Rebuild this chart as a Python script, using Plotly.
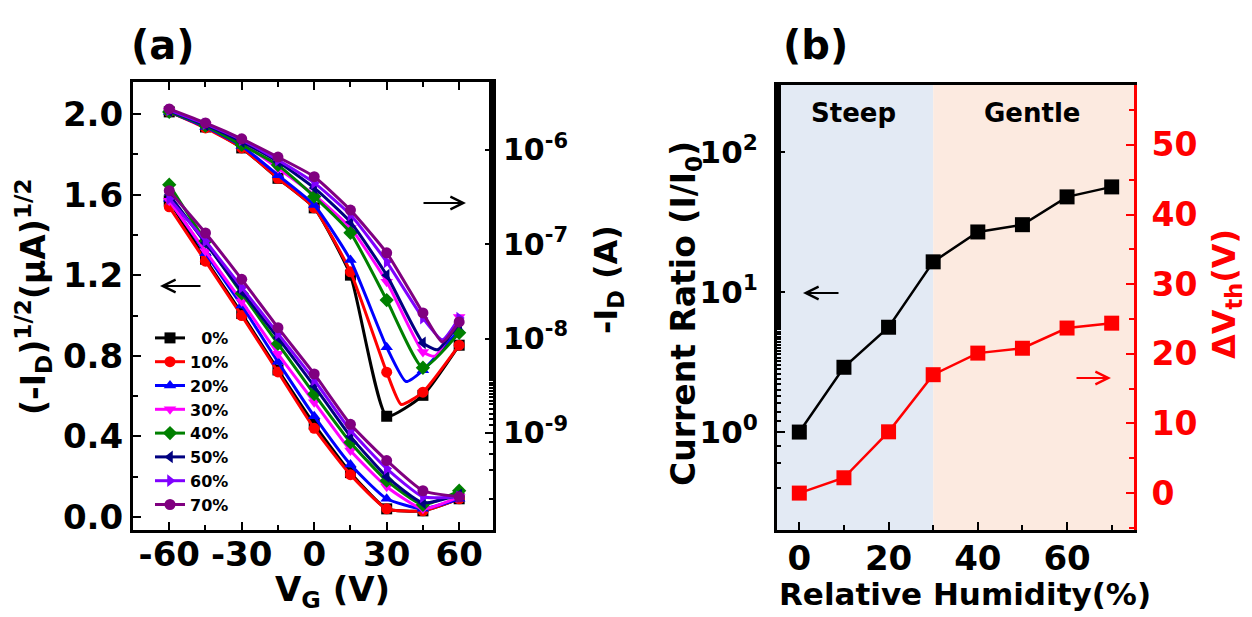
import plotly.graph_objects as go

W, H = 1252, 617

# ---------------- Panel (a) data ----------------
VG = [-60, -45, -30, -15, 0, 15, 30, 45, 60]
labels = ["\u00a0\u00a00%", "10%", "20%", "30%", "40%", "50%", "60%", "70%"]
colors = ["#000000", "#FF0000", "#0000FF", "#FF00FF", "#008000", "#000080", "#8000FF", "#800080"]
symbols = ["square", "circle", "triangle-up", "triangle-down", "diamond",
           "triangle-left", "triangle-right", "circle"]

# (-I_D)^1/2 branch, (uA)^1/2, left axis
sqrt_0 = [1.57, 1.28, 1.01, 0.73, 0.46, 0.22, 0.04, 0.03, 0.09]
sqrt_10 = [1.54, 1.27, 1.00, 0.72, 0.44, 0.21, 0.04, 0.03, 0.09]
sqrt_20 = [1.58, 1.31, 1.05, 0.77, 0.50, 0.26, 0.09, 0.04, 0.09]
sqrt_30 = [1.57, 1.32, 1.07, 0.81, 0.57, 0.33, 0.15, 0.04, 0.10]
sqrt_40 = [1.65, 1.37, 1.11, 0.86, 0.61, 0.37, 0.18, 0.06, 0.13]
sqrt_50 = [1.60, 1.36, 1.12, 0.89, 0.65, 0.40, 0.20, 0.07, 0.11]
sqrt_60 = [1.58, 1.37, 1.14, 0.91, 0.68, 0.43, 0.24, 0.10, 0.10]
sqrt_70 = [1.62, 1.41, 1.18, 0.94, 0.71, 0.46, 0.28, 0.13, 0.10]

# -I_D branch (A), right log axis
id_0 = [2.53e-6, 1.75e-6, 1.05e-6, 5.0e-7, 2.43e-7, 4.7e-8, 1.5e-9, 2.5e-9, 8.5e-9]
id_10 = [2.53e-6, 1.71e-6, 1.05e-6, 5.0e-7, 2.43e-7, 5.1e-8, 4.4e-9, 2.7e-9, 8.5e-9]
id_20 = [2.53e-6, 1.75e-6, 1.10e-6, 5.4e-7, 2.6e-7, 6.8e-8, 8.1e-9, 4.6e-9, 1.23e-8]
id_30 = [2.6e-6, 1.84e-6, 1.19e-6, 6.4e-7, 3.33e-7, 1.49e-7, 4.0e-8, 7.2e-9, 1.69e-8]
id_40 = [2.53e-6, 1.8e-6, 1.13e-6, 6.9e-7, 3.2e-7, 1.32e-7, 2.56e-8, 4.9e-9, 1.15e-8]
id_50 = [2.6e-6, 1.84e-6, 1.22e-6, 7.5e-7, 3.95e-7, 1.72e-7, 4.7e-8, 9.0e-9, 1.46e-8]
id_60 = [2.65e-6, 1.89e-6, 1.28e-6, 7.8e-7, 4.47e-7, 2.05e-7, 6.5e-8, 1.65e-8, 1.65e-8]
id_70 = [2.72e-6, 1.93e-6, 1.31e-6, 8.4e-7, 5.2e-7, 2.3e-7, 8.1e-8, 1.87e-8, 1.5e-8]

# turning points (minimum) of the -I_D branch read between markers
knee_v = [None, 36, 38, 50, None, 51, 53, 53]
knee_i = [None, 2.0e-9, 3.5e-9, 6.5e-9, None, 7.6e-9, 9.7e-9, 9.2e-9]

sqrt_all = [sqrt_0, sqrt_10, sqrt_20, sqrt_30, sqrt_40, sqrt_50, sqrt_60, sqrt_70]
id_all = [id_0, id_10, id_20, id_30, id_40, id_50, id_60, id_70]

# ---------------- Panel (b) data ----------------
RH = [0, 10, 20, 30, 40, 50, 60, 70]
current_ratio = [1.0, 2.9, 5.6, 16.4, 26.8, 30.2, 47.7, 56.2]
delta_vth = [0, 2.2, 8.8, 17, 20.1, 20.8, 23.7, 24.4]
steep_range = [-5, 30]
gentle_range = [30, 75]

FONT = "DejaVu Sans"
fig = go.Figure()

for i in range(8):
    # lower branch (left axis)
    fig.add_trace(go.Scatter(
        x=VG, y=sqrt_all[i], xaxis="x", yaxis="y", mode="lines+markers",
        name=labels[i], legendgroup=labels[i], showlegend=True,
        line=dict(color=colors[i], width=3, shape="spline", smoothing=0.5),
        marker=dict(symbol=symbols[i], size=11, color=colors[i])))
    # upper branch (right log axis)
    xs, ys = list(VG), list(id_all[i])
    if knee_v[i] is not None:
        pts = sorted(zip(xs + [knee_v[i]], ys + [knee_i[i]]))
        xs = [p[0] for p in pts]
        ys = [p[1] for p in pts]
    fig.add_trace(go.Scatter(
        x=xs, y=ys, xaxis="x", yaxis="y2", mode="lines",
        legendgroup=labels[i], showlegend=False, hoverinfo="skip",
        line=dict(color=colors[i], width=3, shape="spline", smoothing=0.5)))
    fig.add_trace(go.Scatter(
        x=VG, y=id_all[i], xaxis="x", yaxis="y2", mode="markers",
        legendgroup=labels[i], showlegend=False,
        marker=dict(symbol=symbols[i], size=11, color=colors[i])))

fig.add_trace(go.Scatter(
    x=RH, y=current_ratio, xaxis="x2", yaxis="y3", mode="lines+markers",
    showlegend=False, line=dict(color="black", width=2.5),
    marker=dict(symbol="square", size=15, color="black")))
fig.add_trace(go.Scatter(
    x=RH, y=delta_vth, xaxis="x2", yaxis="y4", mode="lines+markers",
    showlegend=False, line=dict(color="#FF0000", width=2.5),
    marker=dict(symbol="square", size=15, color="#FF0000")))

def tf(size, color="black"):
    return dict(family=FONT, size=size, color=color, weight="bold")

ax_common = dict(showgrid=False, zeroline=False, linecolor="black", linewidth=3,
                 ticks="inside", tickcolor="black", tickwidth=2, ticklen=8,
                 showline=True, automargin=False)

pa_x = [133 / W, 493 / W]
pa_y = [1 - 530 / H, 1 - 82 / H]
pb_x = [777 / W, 1134 / W]
pb_y = [1 - 530 / H, 1 - 85 / H]

fig.update_layout(
    width=W, height=H, margin=dict(l=0, r=0, t=0, b=0),
    paper_bgcolor="white", plot_bgcolor="white",
    font=dict(family=FONT, weight="bold", color="black"),
    xaxis=dict(domain=pa_x, anchor="y", range=[-75, 74], tickvals=[-60, -30, 0, 30, 60],
               ticktext=["-60", "-30", "0", "30", "60"], mirror="ticks", tickfont=tf(34),
               minor=dict(ticks="inside", ticklen=5, tickwidth=2, tickcolor="black", dtick=15, tick0=-45),
               ticklabelstandoff=-8, **ax_common),
    yaxis=dict(domain=pa_y, anchor="x", range=[-0.065, 2.16], tickvals=[0, 0.4, 0.8, 1.2, 1.6, 2.0],
               ticktext=["0.0", "0.4", "0.8", "1.2", "1.6", "2.0"], tickfont=tf(34),
               minor=dict(ticks="inside", ticklen=5, tickwidth=2, tickcolor="black", dtick=0.2, tick0=0),
               ticklabelstandoff=0, **ax_common),
    yaxis2=dict(overlaying="y", anchor="x", side="right", type="log", range=[-10.03, -5.28],
                tickvals=[1e-9, 1e-8, 1e-7, 1e-6], tickfont=tf(30),
                ticktext=["10<sup>-9</sup>", "10<sup>-8</sup>", "10<sup>-7</sup>", "10<sup>-6</sup>"],
                minor=dict(ticks="inside", ticklen=4, tickwidth=1.5, tickcolor="black"),
                ticklabelstandoff=1, **ax_common),
    xaxis2=dict(domain=pb_x, anchor="y3", range=[-5, 75], tickvals=[0, 20, 40, 60],
                ticktext=["0", "20", "40", "60"], mirror=True, tickfont=tf(34),
                minor=dict(ticks="inside", ticklen=5, tickwidth=2, tickcolor="black", dtick=10, tick0=10),
                ticklabelstandoff=-4, **ax_common),
    yaxis3=dict(domain=pb_y, anchor="x2", type="log", range=[-0.699, 2.477],
                tickvals=[1, 10, 100], tickfont=tf(31),
                ticktext=["10<sup>0</sup>", "10<sup>1</sup>", "10<sup>2</sup>"],
                minor=dict(ticks="inside", ticklen=4, tickwidth=1.5, tickcolor="black"),
                ticklabelstandoff=10, **ax_common),
    yaxis4=dict(overlaying="y3", anchor="x2", side="right", range=[-5.3, 58.6],
                tickvals=[0, 10, 20, 30, 40, 50], showgrid=False, zeroline=False,
                showline=True, linecolor="#FF0000", linewidth=3, ticks="inside",
                tickcolor="#FF0000", tickwidth=2, ticklen=8, automargin=False,
                tickfont=tf(33, "#FF0000"),
                minor=dict(ticks="inside", ticklen=5, tickwidth=2, tickcolor="#FF0000", dtick=5, tick0=5),
                ticklabelstandoff=8),
    legend=dict(x=150 / W, y=1 - 321 / H, xanchor="left", yanchor="top",
                bgcolor="rgba(0,0,0,0)", font=dict(family=FONT, size=16, weight="bold"),
                tracegroupgap=0, itemwidth=30),
)

# background regions in (b)
fig.add_shape(type="rect", xref="x2", yref="y3 domain", x0=steep_range[0], x1=steep_range[1],
              y0=0, y1=1, fillcolor="#E3EAF4", line_width=0, layer="below")
fig.add_shape(type="rect", xref="x2", yref="y3 domain", x0=gentle_range[0], x1=gentle_range[1],
              y0=0, y1=1, fillcolor="#FCEAE0", line_width=0, layer="below")

def ann(text, px, py, size=32, color="black", angle=0, **kw):
    fig.add_annotation(text=text, x=px / W, y=1 - py / H, xref="paper", yref="paper",
                       showarrow=False, textangle=angle, xanchor="center", yanchor="middle",
                       font=dict(family=FONT, size=size, color=color, weight="bold"), **kw)

ann("(a)", 163, 45, size=40)
ann("(b)", 815, 45, size=40)
ann("(-I<sub>D</sub>)<sup>1/2</sup>(\u03bcA)<sup>1/2</sup>", 33, 297, size=33, angle=-90)
ann("V<sub>G</sub> (V)", 332, 591, size=34)
ann("-I<sub>D</sub> (A)", 608, 280, size=32, angle=-90)
ann("Current Ratio (I/I<sub>0</sub>)", 685, 314, size=33, angle=-90)
ann("\u0394V<sub>th</sub>(V)", 1226, 294, size=32, angle=-90, color="#FF0000")
ann("Relative Humidity(%)", 965, 594, size=31)
ann("Steep", 853, 113, size=26)
ann("Gentle", 1032, 113, size=26)

def arrow(hx, hy, dx, color="black"):
    fig.add_annotation(x=hx / W, y=1 - hy / H, xref="paper", yref="paper", text="",
                       showarrow=True, ax=dx, ay=0, arrowhead=5, arrowsize=1.4,
                       arrowwidth=1.8, arrowcolor=color)

arrow(160, 286, 42)
arrow(466, 203, -44)
arrow(803, 293, 37)
arrow(1111, 378, -36, color="#FF0000")

fig.write_html("out.html", config={"displayModeBar": False},
               post_script="document.body.style.margin='0px';")
